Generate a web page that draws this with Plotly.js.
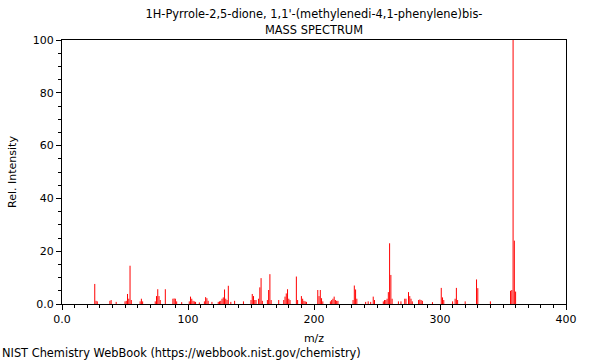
<!DOCTYPE html>
<html><head><meta charset="utf-8">
<script src="https://cdn.plot.ly/plotly-3.0.1.min.js"></script>
<style>body{margin:0;background:#fff}</style></head>
<body><div id="chart" style="width:600px;height:360px"></div>
<script>
const mz = [26,27,28,38,39,43,50,51,52,53,54,55,62,63,64,74,75,76,77,78,82,88,89,90,91,95,
  101,102,103,104,105,106,109,113,114,115,116,119,124,125,126,127,128,129,130,131,132,134,137,144,
  150,151,152,153,154,156,157,158,159,163,164,165,166,172,176,177,178,179,180,181,186,187,190,191,192,193,194,
  203,204,205,206,207,213,214,215,216,217,218,219,231,232,233,234,241,243,245,247,248,
  255,256,257,258,259,260,261,262,267,269,272,273,275,276,277,278,283,284,285,286,294,
  301,302,303,310,312,313,314,320,329,330,340,356,357,358,359,360];
const intensity = [7.6,1.2,1.0,1.2,1.5,0.8,1.0,1.2,3.8,2.0,14.5,1.5,1.0,2.0,1.0,1.0,3.0,5.6,3.0,1.5,5.6,2.0,2.1,2.0,1.0,0.7,
  1.0,2.8,2.0,1.2,1.0,0.8,0.6,1.0,2.6,2.2,1.2,0.8,0.8,1.0,1.2,2.0,2.5,5.5,2.0,1.5,6.9,0.8,1.2,1.0,
  1.5,3.8,3.0,1.5,1.5,2.0,6.3,9.8,1.2,1.5,5.3,11.3,1.5,1.5,1.5,2.8,4.0,5.6,2.0,1.5,10.4,1.5,3.0,2.0,1.2,1.0,0.8,
  5.3,3.0,5.3,2.2,1.0,1.0,1.5,2.0,2.8,1.5,1.2,1.2,1.5,7.0,5.5,2.0,0.8,1.0,0.8,2.8,1.5,
  1.0,1.5,1.5,2.0,4.5,23.0,11.0,2.0,1.0,1.0,2.0,2.0,4.5,3.0,2.0,1.0,1.5,1.7,1.5,1.2,0.7,
  6.1,2.5,1.5,1.0,2.0,6.1,1.5,1.0,9.3,6.0,1.0,5.0,5.3,100,24.0,4.7];
const xTickVals = [0,100,200,300,400];
const xTickText = ["0.0","100","200","300","400"];
const yTickVals = [0,20,40,60,80,100];
const yTickText = ["0.0","20","40","60","80","100"];
const titleLine1 = "1H-Pyrrole-2,5-dione, 1,1'-(methylenedi-4,1-phenylene)bis-";
const titleLine2 = "MASS SPECTRUM";
const footer = "NIST Chemistry WebBook (https://webbook.nist.gov/chemistry)";

// stick spectrum: each peak is a vertical segment from 0 to its intensity
const stickX = [], stickY = [];
mz.forEach((m, i) => { stickX.push(m, m, null); stickY.push(0, intensity[i], null); });

const font = {family: "DejaVu Sans, sans-serif", size: 11, color: "#000"};
const bigFont = {family: "DejaVu Sans, sans-serif", size: 11.4, color: "#000"};

Plotly.newPlot("chart", [{
  type: "scatter", mode: "lines", x: stickX, y: stickY,
  line: {color: "#ff0000", width: 1}, connectgaps: false,
  hoverinfo: "x+y"
}], {
  width: 600, height: 360,
  margin: {l: 62, r: 34, t: 40, b: 56},
  paper_bgcolor: "#fff", plot_bgcolor: "#fff",
  font: font,
  showlegend: false,
  title: {text: titleLine1, x: 0.5, xref: "paper", xanchor: "center",
    y: 1 - 14/360, yref: "container", yanchor: "middle", font: bigFont},
  xaxis: {range: [0, 400], showgrid: false, zeroline: false, showline: true, mirror: true,
    linecolor: "#000", linewidth: 1, ticks: "outside", ticklen: 5, tickcolor: "#000",
    tickvals: xTickVals, ticktext: xTickText,
    minor: {dtick: 10, ticks: "outside", ticklen: 3, tickcolor: "#000", showgrid: false},
    title: {text: "m/z", standoff: 9, font: font}},
  yaxis: {range: [0, 100], showgrid: false, zeroline: false, showline: true, mirror: true,
    linecolor: "#000", linewidth: 1, ticks: "outside", ticklen: 5, tickcolor: "#000",
    tickvals: yTickVals, ticktext: yTickText,
    minor: {dtick: 5, ticks: "outside", ticklen: 3, tickcolor: "#000", showgrid: false},
    title: {text: "Rel. Intensity", standoff: 13, font: font}},
  annotations: [
    {text: titleLine2, xref: "paper", yref: "paper", x: 0.5, y: (304 - 30)/264,
      xanchor: "center", yanchor: "middle", showarrow: false, font: bigFont},
    {text: footer, xref: "paper", yref: "paper", x: -62/504, y: -49/264,
      xanchor: "left", yanchor: "middle", showarrow: false, font: bigFont}]
}, {displayModeBar: false, staticPlot: true});
</script>
</body></html>
